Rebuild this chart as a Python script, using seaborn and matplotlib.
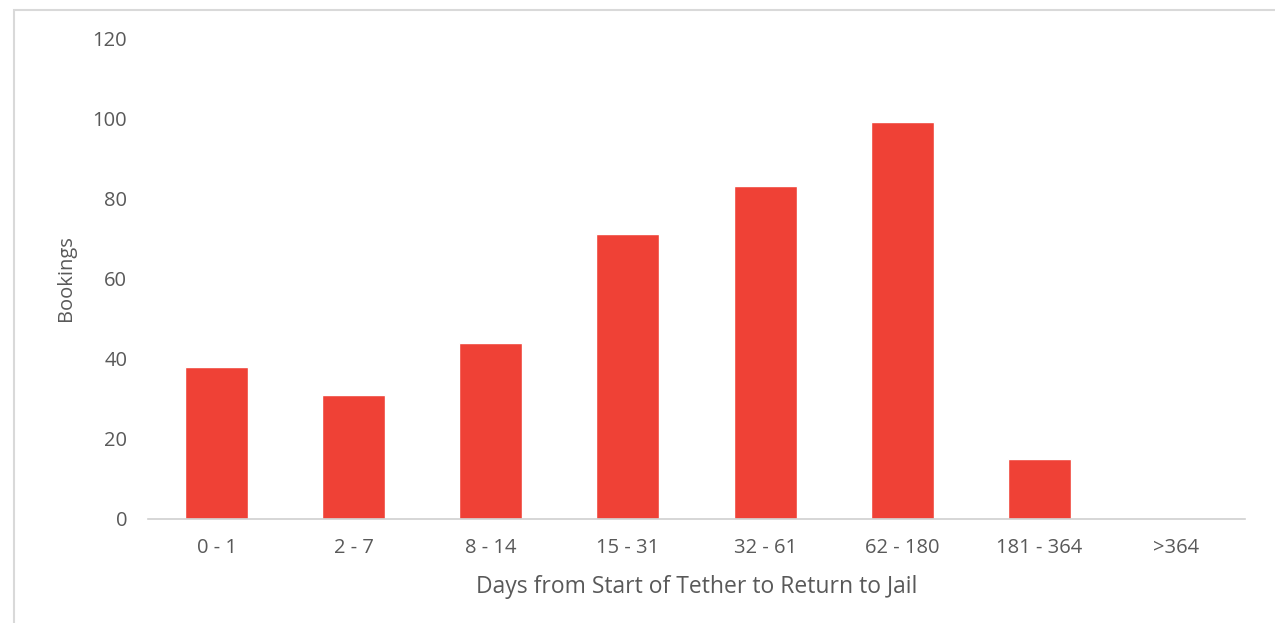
import matplotlib
matplotlib.use("Agg")
import matplotlib.pyplot as plt
from matplotlib.patches import Rectangle
import seaborn as sns
import pandas as pd

categories = ["0 - 1", "2 - 7", "8 - 14", "15 - 31", "32 - 61", "62 - 180", "181 - 364", ">364"]
bookings = [38, 31, 44, 71, 83, 99, 15, 0]

sns.set_theme(style="white")
plt.rcParams['font.family'] = ['Open Sans', 'DejaVu Sans']

df = pd.DataFrame({"range": categories, "bookings": bookings})

fig = plt.figure(figsize=(12.75, 6.23), dpi=100)
ax = fig.add_axes([148/1275, 1-519/623, (1245-148)/1275, (519-38)/623])

sns.barplot(data=df, x="range", y="bookings", color="#EF4136", saturation=1,
            width=0.46, ax=ax, order=categories)

ax.set_ylim(0, 120)
ax.set_yticks(range(0, 121, 20))
ax.set_xlim(-0.5, len(categories) - 0.5)
for s in ["top", "right", "left"]:
    ax.spines[s].set_visible(False)
ax.spines["bottom"].set_color("#d0d0d0")
ax.spines["bottom"].set_linewidth(1.2)
ax.tick_params(axis="both", length=0, colors="#595959", labelsize=14.5)
ax.tick_params(axis="y", pad=15)
ax.tick_params(axis="x", pad=14)
ax.set_xlabel("Days from Start of Tether to Return to Jail", fontsize=16.5, color="#595959", labelpad=12)
ax.set_ylabel("Bookings", fontsize=14.5, color="#595959", labelpad=12)

fig.patches.append(Rectangle((14/1275, -0.05), 1.0, 1 - 10/623 + 0.05,
                             transform=fig.transFigure, fill=False,
                             edgecolor="#d9d9d9", linewidth=1.5))

fig.savefig("out.png", dpi=100)
